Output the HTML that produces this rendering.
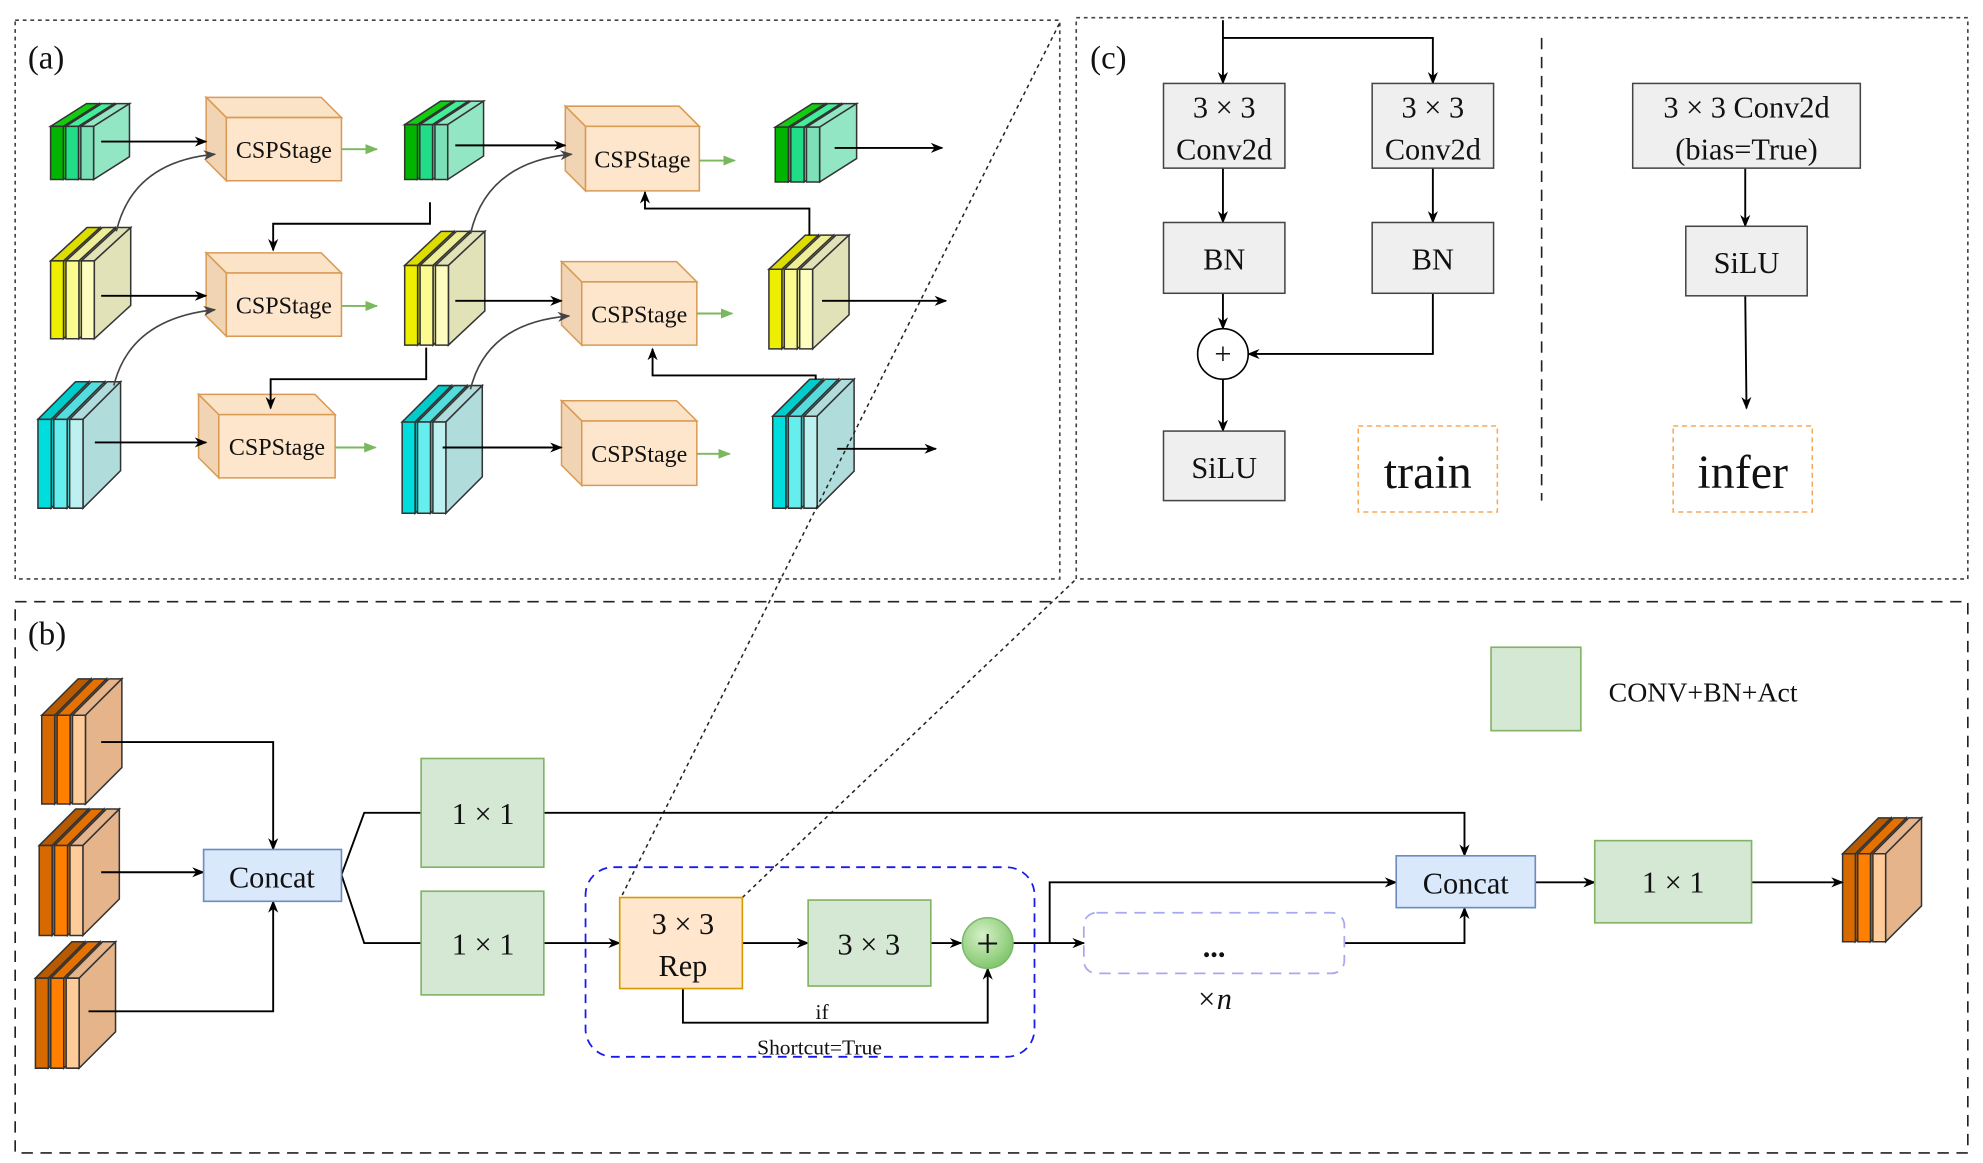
<!DOCTYPE html>
<html><head><meta charset="utf-8"><style>
html,body{margin:0;padding:0;background:#fff;width:1983px;height:1163px;overflow:hidden}
svg{display:block}
text{font-family:"Liberation Serif",serif;fill:#111}
</style></head><body>
<svg id="s" width="1983" height="1163" viewBox="0 0 1568 920" preserveAspectRatio="none" xmlns="http://www.w3.org/2000/svg">
<defs>
<marker id="ab" markerWidth="10" markerHeight="10" refX="9" refY="5" orient="auto" markerUnits="userSpaceOnUse"><path d="M0,1 L10,5 L0,9 L3,5 z" fill="#000"/></marker>
<marker id="ag" markerWidth="10" markerHeight="10" refX="9" refY="5" orient="auto" markerUnits="userSpaceOnUse"><path d="M0,1 L10,5 L0,9 L3,5 z" fill="#444"/></marker>
<marker id="agr" markerWidth="10" markerHeight="10" refX="9" refY="5" orient="auto" markerUnits="userSpaceOnUse"><path d="M0,1 L10,5 L0,9 z" fill="#7ab85e"/></marker>
<radialGradient id="pg" cx="0.4" cy="0.35" r="0.7"><stop offset="0" stop-color="#d6f0c8"/><stop offset="1" stop-color="#7cc466"/></radialGradient>
</defs>
<g id="g"></g>
<!-- panels -->
<rect x="12" y="16" width="826" height="442" fill="none" stroke="#444" stroke-width="1.3" stroke-dasharray="3,3"/>
<rect x="851" y="14" width="705" height="444" fill="none" stroke="#444" stroke-width="1.3" stroke-dasharray="3,3"/>
<rect x="12" y="476" width="1544" height="436" fill="none" stroke="#222" stroke-width="1.3" stroke-dasharray="9,6"/>
<line x1="492" y1="708" x2="838" y2="18" stroke="#222" stroke-width="1.2" stroke-dasharray="3,3"/>
<line x1="587" y1="710" x2="851" y2="458" stroke="#222" stroke-width="1.2" stroke-dasharray="3,3"/>
<text x="22" y="54" font-size="26">(a)</text>
<text x="862" y="54" font-size="26">(c)</text>
<text x="22" y="510" font-size="26">(b)</text>

<g id="arr">
<g stroke="#000" stroke-width="1.5" fill="none" marker-end="url(#ab)">
<path d="M80,112 H163"/><path d="M360,115 H447"/><path d="M660,117 H745"/>
<path d="M340,160 V177 H216 V198"/>
<path d="M80,234 H163"/><path d="M360,238 H444"/><path d="M650,238 H748"/>
<path d="M640,186 V165 H510 V152"/>
<path d="M337,275 V300 H214 V323"/>
<path d="M75,350 H163"/><path d="M350,354 H444"/><path d="M662,355 H740"/>
<path d="M645,300 V297 H516 V276"/>
</g>
<g stroke="#444" stroke-width="1.3" fill="none" marker-end="url(#ag)">
<path d="M92,183 Q105,128 170,122"/>
<path d="M372,185 Q385,128 452,122"/>
<path d="M90,305 Q103,252 170,245"/>
<path d="M372,308 Q385,255 450,250"/>
</g>
</g>
<g stroke="#7ab85e" stroke-width="1.5" fill="none" marker-end="url(#agr)">
<path d="M270,118 H298"/><path d="M553,127 H581"/><path d="M270,242 H298"/><path d="M551,248 H579"/><path d="M265,354 H297"/><path d="M551,359 H577"/>
</g>

<!-- (c) -->
<g stroke="#000" stroke-width="1.5" fill="none" marker-end="url(#ab)">
<path d="M967,16 V66"/><path d="M967,30 H1133 V66"/>
<path d="M967,133 V176"/><path d="M1133,133 V176"/>
<path d="M967,232 V260"/><path d="M1133,232 V280 H987"/>
<path d="M967,300 V341"/>
<path d="M1380,133 V179"/><path d="M1380,234 L1381,323"/>
</g>
<g fill="#efefef" stroke="#444" stroke-width="1.2">
<rect x="920" y="66" width="96" height="67"/><rect x="1085" y="66" width="96" height="67"/>
<rect x="920" y="176" width="96" height="56"/><rect x="1085" y="176" width="96" height="56"/>
<rect x="920" y="341" width="96" height="55"/>
<rect x="1291" y="66" width="180" height="67"/><rect x="1333" y="179" width="96" height="55"/>
</g>
<circle cx="967" cy="280" r="20" fill="#fff" stroke="#000" stroke-width="1.3"/>
<text x="967" y="288" font-size="24" text-anchor="middle">+</text>
<g font-size="24" text-anchor="middle">
<text x="968" y="93">3 × 3</text><text x="968" y="126">Conv2d</text>
<text x="1133" y="93">3 × 3</text><text x="1133" y="126">Conv2d</text>
<text x="968" y="213">BN</text><text x="1133" y="213">BN</text>
<text x="968" y="378">SiLU</text>
<text x="1381" y="93">3 × 3 Conv2d</text><text x="1381" y="126">(bias=True)</text>
<text x="1381" y="216">SiLU</text>
</g>
<rect x="1074" y="337" width="110" height="68" fill="none" stroke="#f5a85a" stroke-width="1.2" stroke-dasharray="4,3"/>
<rect x="1323" y="337" width="110" height="68" fill="none" stroke="#f5a85a" stroke-width="1.2" stroke-dasharray="4,3"/>
<text x="1129" y="386" font-size="38" text-anchor="middle">train</text>
<text x="1378" y="386" font-size="38" text-anchor="middle">infer</text>
<line x1="1219" y1="30" x2="1219" y2="396" stroke="#222" stroke-width="1.3" stroke-dasharray="9,6"/>

<!-- (b) -->
<g id="arrb" stroke="#000" stroke-width="1.5" fill="none" marker-end="url(#ab)">
<path d="M80,587 H216 V672"/><path d="M80,690 H161"/><path d="M70,800 H216 V713"/>
<path d="M430,643 H1158 V677"/>
<path d="M430,746 H490"/><path d="M587,746 H639"/><path d="M736,746 H760"/>
<path d="M540,782 V809 H781 V766"/>
<path d="M801,746 H830 V698 H1104"/>
<path d="M830,746 H857"/>
<path d="M1063,746 H1158 V718"/>
<path d="M1214,698 H1261"/><path d="M1385,698 H1457"/>
</g>
<g stroke="#000" stroke-width="1.5" fill="none">
<path d="M270,692 L288,643 H333"/><path d="M270,692 L288,746 H333"/>
</g>
<g fill="#dae8fc" stroke="#6c8ebf" stroke-width="1.3">
<rect x="161" y="672" width="109" height="41"/><rect x="1104" y="677" width="110" height="41"/>
</g>
<g fill="#d5e8d4" stroke="#82b366" stroke-width="1.3">
<rect x="333" y="600" width="97" height="86"/><rect x="333" y="705" width="97" height="82"/>
<rect x="639" y="712" width="97" height="68"/><rect x="1261" y="665" width="124" height="65"/>
<rect x="1179" y="512" width="71" height="66"/>
</g>
<rect x="490" y="710" width="97" height="72" fill="#ffe6cc" stroke="#d79b00" stroke-width="1.3"/>
<rect x="463" y="686" width="355" height="150" rx="22" fill="none" stroke="#1a1aee" stroke-width="1.4" stroke-dasharray="7,5"/>
<rect x="857" y="722" width="206" height="48" rx="10" fill="none" stroke="#a8a8f0" stroke-width="1.4" stroke-dasharray="9,6"/>
<circle cx="781" cy="746" r="20" fill="url(#pg)" stroke="#7cb870" stroke-width="1.2"/>
<text x="781" y="757" font-size="32" text-anchor="middle">+</text>
<g font-size="24" text-anchor="middle">
<text x="215" y="702">Concat</text><text x="1159" y="707">Concat</text>
<text x="382" y="652">1 × 1</text><text x="382" y="755">1 × 1</text>
<text x="687" y="755">3 × 3</text><text x="1323" y="706">1 × 1</text>
<text x="540" y="739">3 × 3</text><text x="540" y="772">Rep</text>
<text x="960" y="757" font-weight="bold">...</text>
<text x="960" y="798" font-style="italic">×n</text>
</g>
<text x="1272" y="555" font-size="22">CONV+BN+Act</text>
<text x="650" y="806" font-size="17" text-anchor="middle">if</text>
<text x="648" y="834" font-size="17" text-anchor="middle">Shortcut=True</text>
</svg>
<script>
var g=document.getElementById('g'),NS='http://www.w3.org/2000/svg';
function P(pts,f,s){var p=document.createElementNS(NS,'polygon');p.setAttribute('points',pts.map(function(a){return a.join(',')}).join(' '));p.setAttribute('fill',f);p.setAttribute('stroke',s||'#333');p.setAttribute('stroke-width','1.2');g.appendChild(p);}
function stack(x,y,w,h,fr,sd){var off=w*0.19,tw=w*0.16,d=w*0.45,dy=Math.min(d,h*0.3);
for(var k=0;k<3;k++){var sx=x+k*off;
P([[sx,y+dy],[sx+d,y],[sx+d+tw,y],[sx+tw,y+dy]],sd[k]);
P([[sx+tw,y+dy],[sx+tw+d,y],[sx+tw+d,y+h-dy],[sx+tw,y+h]],sd[k]);
P([[sx,y+dy],[sx+tw,y+dy],[sx+tw,y+h],[sx,y+h]],fr[k]);}}
function csp(x,y,w,h,label){var dd=16;
P([[x,y],[x+w-dd,y],[x+w,y+dd],[x+dd,y+dd]],'#fbe3c8','#d99a55');
P([[x,y],[x+dd,y+dd],[x+dd,y+h],[x,y+h-dd]],'#f0d4b4','#d99a55');
P([[x+dd,y+dd],[x+w,y+dd],[x+w,y+h],[x+dd,y+h]],'#fde6cc','#d99a55');
var t=document.createElementNS(NS,'text');t.setAttribute('x',x+dd+(w-dd)/2);t.setAttribute('y',y+dd+(h-dd)/2+7);t.setAttribute('font-size','19');t.setAttribute('text-anchor','middle');t.textContent=label;document.getElementById('s').appendChild(t);}
var G=[['#00b400','#22dd88','#7ee0b8'],['#11cc11','#44ee99','#92e6c4']];
var Y=[['#eeee00','#fbfb90','#fdfdc0'],['#dddd00','#eeee99','#e2e2b8']];
var C=[['#00dddd','#66eeee','#bdf0f0'],['#00cccc','#55dddd','#b0dcdc']];
var O=[['#d66a00','#ff8000','#ffcc99'],['#b85a00','#e57200','#e6b48a']];
stack(40,82,63,60,G[0],G[1]);stack(320,80,63,62,G[0],G[1]);stack(613,82,65,62,G[0],G[1]);
stack(40,180,64,88,Y[0],Y[1]);stack(320,183,64,90,Y[0],Y[1]);stack(608,186,64,90,Y[0],Y[1]);
stack(30,302,66,100,C[0],C[1]);stack(318,305,64,101,C[0],C[1]);stack(611,300,65,102,C[0],C[1]);
stack(33,537,64,99,O[0],O[1]);stack(31,640,64,100,O[0],O[1]);stack(28,745,64,100,O[0],O[1]);stack(1457,647,63,98,O[0],O[1]);
csp(163,77,107,66,'CSPStage');csp(447,84,106,67,'CSPStage');csp(163,200,107,66,'CSPStage');
csp(444,207,107,66,'CSPStage');csp(157,312,108,66,'CSPStage');csp(444,317,107,67,'CSPStage');
</script>
</body></html>
